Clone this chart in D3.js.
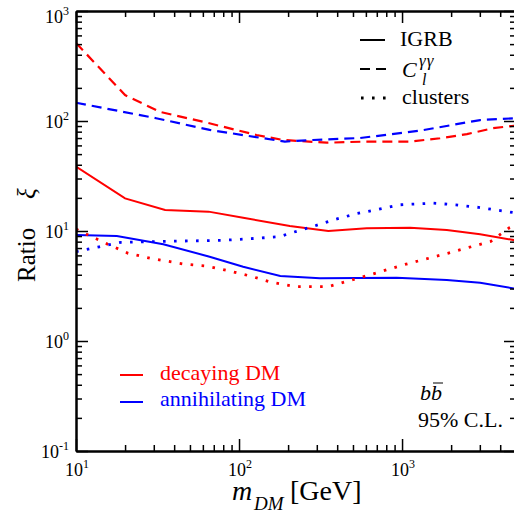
<!DOCTYPE html>
<html><head><meta charset="utf-8">
<script src="https://cdn.jsdelivr.net/npm/d3@7"></script>
<style>
html,body{margin:0;padding:0;background:#fff;}
svg text{font-family:"Liberation Serif","Times New Roman",serif;}
</style></head>
<body><svg id="c" width="514" height="510"></svg>
<script>
// ---- data ----
const decClMass = [10,20,32.7,60,128,186,345,577,1120,1710,2500,3614,5000];
const decClVal  = [512,172,121,98.6,74.6,67.2,63.5,64.9,65,69.7,76,86,91];
const annClMass = [10,31,66,191,284,552,1288,3013,5000];
const annClVal  = [146.6,106,83,65,67.2,70,81.7,102,106];
const decIgrbMass = [10,20,35.2,65,106,205,353,607,1120,1880,3013,5000];
const decIgrbVal  = [38.5,19.8,15.5,15,13.2,11.1,10.0,10.6,10.7,10.2,9.33,8.2];
const annIgrbMass = [10,17.8,34.3,66,106,179,314,927,1880,3013,5000];
const annIgrbVal  = [9.2,9.0,7.57,5.84,4.73,3.9,3.72,3.76,3.59,3.39,2.98];
const decCluMass = [10,11.7,15.6,20.9,28.7,46,62.9,86,117,158,220,353,552,1028,1905,3013,3500,4550,5000];
const decCluVal  = [10.4,9.3,7.6,6.27,5.65,5.0,4.81,4.35,3.9,3.42,3.12,3.12,3.76,4.94,6.27,7.57,8.05,10.7,11.3];
const annCluMass = [10,13.9,18.9,36,79.4,128,177,205,279,379,517,706,962,1549,2133,2938,5000];
const annCluVal  = [6.49,7.19,7.89,8.05,8.23,8.58,8.88,9.53,10.9,12.6,14.3,15.7,17.3,17.9,17.3,16.4,14.6];

const xMajor = [10,100,1000];
const xMajorExp = ["1","2","3"];
const xMinor = [20,30,40,50,60,70,80,90,200,300,400,500,600,700,800,900,2000,3000,4000,5000];
const yMajor = [0.1,1,10,100,1000];
const yMajorExp = ["-1","0","1","2","3"];
const yMinor = [];
[0.1,1,10,100].forEach(d=>{for(let k=2;k<=9;k++) yMinor.push(+(d*k).toPrecision(3));});

const series = [
  {m:decIgrbMass, v:decIgrbVal, color:"#ff0000", style:"solid"},
  {m:annIgrbMass, v:annIgrbVal, color:"#0000ff", style:"solid"},
  {m:decClMass, v:decClVal, color:"#ff0000", style:"dashed"},
  {m:annClMass, v:annClVal, color:"#0000ff", style:"dashed"},
  {m:decCluMass, v:decCluVal, color:"#ff0000", style:"dotted"},
  {m:annCluMass, v:annCluVal, color:"#0000ff", style:"dotted"}
];

// ---- layout ----
const L=76, R=516, T=11, B=451;
const svg = d3.select("#c");
const x = d3.scaleLog().domain([10,5000]).range([L,R]);
const y = d3.scaleLog().domain([0.1,1000]).range([B,T]);

svg.append("defs").append("clipPath").attr("id","clip")
  .append("rect").attr("x",L).attr("y",T).attr("width",R-L).attr("height",B-T);

const dash = {solid:null, dashed:"10,6", dotted:"2.6,8.4"};
const width = {solid:2, dashed:2.2, dotted:2.8};
const line = d3.line().x(d=>x(d[0])).y(d=>y(d[1])).curve(d3.curveLinear);
const g = svg.append("g").attr("clip-path","url(#clip)");
series.forEach(s=>{
  g.append("path").datum(s.m.map((mm,i)=>[mm,s.v[i]]))
   .attr("d",line).attr("fill","none").attr("stroke",s.color)
   .attr("stroke-width",width[s.style]).attr("stroke-dasharray",dash[s.style]);
});

// ---- axes ----
function ax(gen, scale, vals, size, tr){
  const a = svg.append("g").attr("transform",tr)
    .call(gen(scale).tickValues(vals).tickSize(size).tickSizeOuter(0).tickFormat(""));
  a.selectAll(".tick line").attr("stroke","#000").attr("stroke-width",1.5);
  a.select(".domain").attr("stroke","#000").attr("stroke-width",2);
  return a;
}
ax(d3.axisBottom, x, xMajor, -12, `translate(0,${B})`);
ax(d3.axisBottom, x, xMinor, -6, `translate(0,${B})`);
ax(d3.axisTop, x, xMajor, -12, `translate(0,${T})`);
ax(d3.axisTop, x, xMinor, -6, `translate(0,${T})`);
ax(d3.axisLeft, y, yMajor, -12, `translate(${L},0)`);
ax(d3.axisLeft, y, yMinor, -6, `translate(${L},0)`);
ax(d3.axisRight, y, yMajor, -12, `translate(${R},0)`);
ax(d3.axisRight, y, yMinor, -6, `translate(${R},0)`);

// tick labels
xMajor.forEach((v,i)=>{
  const t = svg.append("text").attr("x",x(v)+1).attr("y",476).attr("text-anchor","middle")
    .attr("font-size",18);
  t.append("tspan").text("10");
  t.append("tspan").attr("font-size",12).attr("dy",-8).text(xMajorExp[i]);
});
yMajor.forEach((v,i)=>{
  const yy = v===1000 ? 23 : y(v)+7;
  const t = svg.append("text").attr("x",69).attr("y",yy).attr("text-anchor","end")
    .attr("font-size",18);
  t.append("tspan").text("10");
  t.append("tspan").attr("font-size",12).attr("dy",-8).text(yMajorExp[i]);
});

// axis titles
const xt = svg.append("text").attr("y",500).attr("font-size",28);
xt.append("tspan").attr("x",232).attr("font-style","italic").text("m");
xt.append("tspan").attr("x",254).attr("dy",10).attr("font-size",19).attr("font-style","italic").text("DM");
xt.append("tspan").attr("x",290).attr("dy",-10).text("[GeV]");

svg.append("text").attr("transform","translate(35,282) rotate(-90)").attr("font-size",25).text("Ratio");
svg.append("text").attr("transform","translate(35,199) rotate(-90)").attr("font-size",25)
  .attr("font-style","italic").text("ξ");

// style legend
const lg = svg.append("g");
lg.append("line").attr("x1",360).attr("x2",385).attr("y1",40).attr("y2",40).attr("stroke","#000").attr("stroke-width",2);
lg.append("text").attr("x",400).attr("y",46).attr("font-size",22).text("IGRB");
lg.append("line").attr("x1",360).attr("x2",386).attr("y1",69).attr("y2",69).attr("stroke","#000").attr("stroke-width",2).attr("stroke-dasharray","10,6");
lg.append("text").attr("x",402).attr("y",77).attr("font-size",22).attr("font-style","italic").text("C");
lg.append("text").attr("x",422).attr("y",85).attr("font-size",16).attr("font-style","italic").text("l");
lg.append("text").attr("x",419).attr("y",66).attr("font-size",17).attr("font-style","italic").attr("letter-spacing",1).text("γγ");
lg.append("line").attr("x1",361).attr("x2",386).attr("y1",98).attr("y2",98).attr("stroke","#000").attr("stroke-width",2.8).attr("stroke-dasharray","2.6,8.4");
lg.append("text").attr("x",402).attr("y",104).attr("font-size",22).text("clusters");

// color legend
svg.append("line").attr("x1",120).attr("x2",143).attr("y1",375).attr("y2",375).attr("stroke","#ff0000").attr("stroke-width",2);
svg.append("text").attr("x",160).attr("y",380).attr("font-size",22).attr("fill","#ff0000").text("decaying DM");
svg.append("line").attr("x1",120).attr("x2",143).attr("y1",402).attr("y2",402).attr("stroke","#0000ff").attr("stroke-width",2);
svg.append("text").attr("x",160).attr("y",406).attr("font-size",22).attr("fill","#0000ff").text("annihilating DM");

// channel label
svg.append("text").attr("x",420).attr("y",400).attr("font-size",22).attr("font-style","italic").text("bb");
svg.append("line").attr("x1",433).attr("x2",443).attr("y1",383).attr("y2",383).attr("stroke","#000").attr("stroke-width",1);
svg.append("text").attr("x",418).attr("y",427).attr("font-size",22).text("95% C.L.");
</script></body></html>
